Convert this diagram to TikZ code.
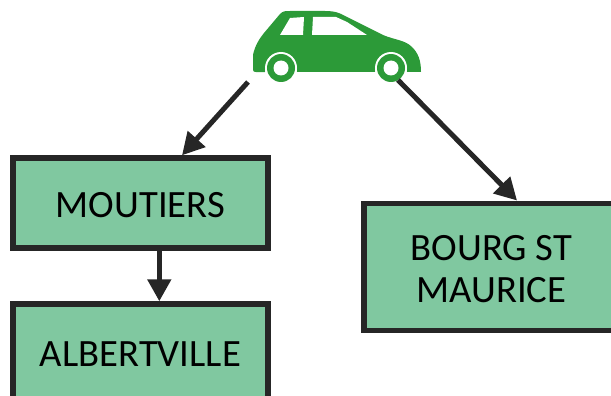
\documentclass[tikz,border=0pt]{standalone}
\usepackage{fontspec}
\setmainfont{Carlito}
\usetikzlibrary{arrows.meta}

\definecolor{boxgreen}{RGB}{128,200,160}
\definecolor{cargreen}{RGB}{44,154,56}
\definecolor{inkgray}{RGB}{38,38,38}

\newcommand{\capstrut}{\rule{0pt}{0.58cm}}

\tikzset{
  townbox/.style={draw=inkgray, fill=boxgreen, line width=0.11cm, minimum width=5.1cm,
    align=center, font=\fontsize{22}{24}\selectfont},
  roadarrow/.style={-{Triangle[length=0.44cm,width=0.46cm]}, inkgray, line width=0.1cm}
}

\begin{document}
\begin{tikzpicture}[x=0.02cm,y=-0.02cm]

  \clip (0,0) rectangle (611,395);

  % car
  \fill[cargreen] (253,70) -- (253,55) .. controls (255,45) and (260,38) .. (264,33)
    -- (280,14) .. controls (283,11) and (285,11) .. (290,11) -- (325,11)
    .. controls (335,11) and (340,13) .. (345,16) -- (383,35)
    .. controls (395,40) and (405,40) .. (412,47) .. controls (418,53) and (421,60) .. (421,72)
    -- (407,72) arc (0:-180:16) -- (297,72) arc (0:-180:16) -- (265,72)
    .. controls (258,72) and (253,73) .. (253,70) -- cycle;
  \fill[white] (280,35) -- (290,18) -- (304,17) -- (303,35) -- cycle;
  \fill[white] (312,35) -- (313,17) -- (336,17) -- (347,22) -- (367,35) -- cycle;
  \fill[white] (281,68) circle (16);
  \fill[white] (391,68) circle (16);
  \fill[cargreen] (281,68) circle (14);
  \fill[cargreen] (391,68) circle (14);
  \fill[white] (281,68) circle (7.5);
  \fill[white] (391,68) circle (7.5);

  \coordinate (carleft) at (248,82);
  \coordinate (carright) at (398,80);

  % towns
  \node[townbox, minimum height=1.8cm] (moutiers) at (140.5,203) {\capstrut MOUTIERS};
  \node[townbox, minimum height=1.9cm] (albertville) at (140.5,351.5) {\capstrut ALBERTVILLE};
  \node[townbox, minimum height=2.55cm] (bourg) at (491.5,267) {\capstrut BOURG ST\\MAURICE};

  \draw[roadarrow] (carleft) -- (moutiers.49);
  \draw[roadarrow] (carright) -- (bourg.69);
  \draw[roadarrow] ([xshift=0.376cm]moutiers.south) -- ([xshift=0.376cm]albertville.north);

\end{tikzpicture}
\end{document}
